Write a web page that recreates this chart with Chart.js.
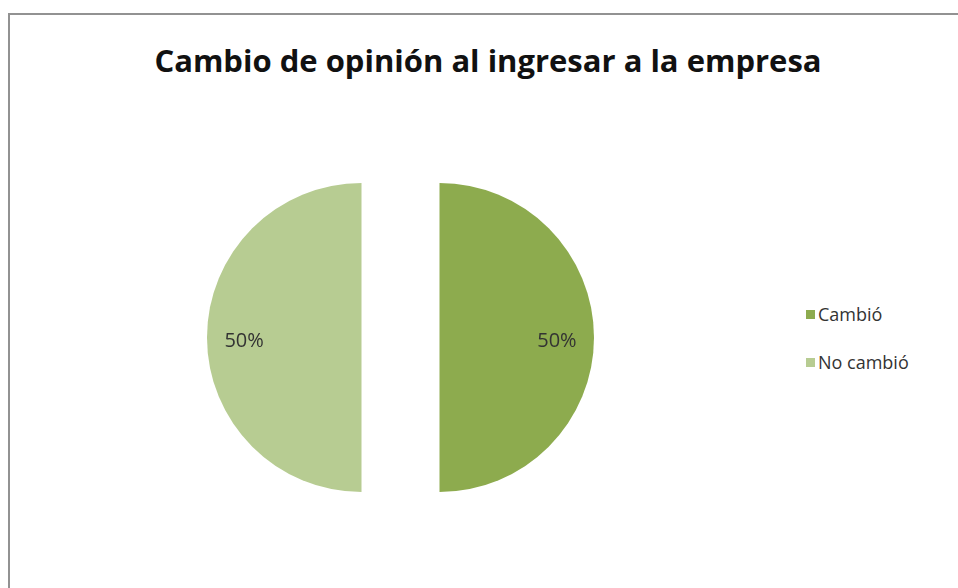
<!DOCTYPE html>
<html lang="es">
<head>
<meta charset="utf-8">
<title>Cambio de opinión al ingresar a la empresa</title>
<script src="https://cdn.jsdelivr.net/npm/chart.js@4.4.1/dist/chart.umd.min.js"></script>
<style>
	html, body { margin: 0; padding: 0; background: #fff; overflow: hidden; }
	body { width: 958px; height: 588px; position: relative; font-family: 'Open Sans', sans-serif; }
	.frame {
		position: absolute; left: 8px; top: 13px; width: 1000px; height: 1000px;
		border-left: 2px solid #929292; border-top: 2px solid #929292;
	}
	.title {
		position: absolute; left: 0; top: 39px; width: 976px; text-align: center;
		font-size: 31px; font-weight: 700; color: #111;
	}
	.pie { position: absolute; left: 196px; top: 133px; width: 409px; height: 409px; }
	.legend { position: absolute; left: 806px; top: 299px; list-style: none; margin: 0; padding: 0; }
	.legend li { font-size: 18px; color: #333; display: flex; align-items: center; height: 30px; margin-bottom: 18px; }
	.legend .box { width: 9px; height: 9px; margin-right: 3px; }
</style>
</head>
<body>
<div class="frame"></div>
<div class="title" id="title"></div>
<div class="pie"><canvas id="pieChart"></canvas></div>
<ul class="legend" id="legend"></ul>
<script>
// Chart data
const chartTitle = 'Cambio de opinión al ingresar a la empresa';
const categories = ['Cambió', 'No cambió'];
const values = [50, 50];
const colors = ['#8dab4e', '#b7cc92'];

// How far each slice is pulled out from the centre, in px
const explode = 39;

document.getElementById('title').textContent = chartTitle;

// Legend built from the same arrays
document.getElementById('legend').innerHTML = categories.map((c, i) => `
	<li><span class="box" style="background:${colors[i]}"></span>${c}</li>
`).join('');

// Pull the slices apart without the corner trimming that `offset` applies
const explodeSlices = {
	id: 'explodeSlices',
	afterUpdate(chart) {
		const { left, right, top, bottom } = chart.chartArea;
		const cx = (left + right) / 2;
		const cy = (top + bottom) / 2;
		chart.getDatasetMeta(0).data.forEach(arc => {
			const mid = (arc.startAngle + arc.endAngle) / 2;
			arc.x = cx + Math.cos(mid) * explode;
			arc.y = cy + Math.sin(mid) * explode;
		});
	}
};

// Percent labels inside each slice
const percentLabels = {
	id: 'percentLabels',
	afterDatasetsDraw(chart) {
		const { ctx } = chart;
		const meta = chart.getDatasetMeta(0);
		const total = values.reduce((a, b) => a + b, 0);
		ctx.save();
		ctx.font = '20px "Open Sans", sans-serif';
		ctx.fillStyle = '#333';
		ctx.textAlign = 'center';
		ctx.textBaseline = 'middle';
		meta.data.forEach((arc, i) => {
			const mid = (arc.startAngle + arc.endAngle) / 2;
			const r = arc.outerRadius * 0.76;
			const text = `${Math.round(values[i] / total * 100)}%`;
			ctx.fillText(text, arc.x + Math.cos(mid) * r, arc.y + Math.sin(mid) * r + 4);
		});
		ctx.restore();
	}
};

new Chart(document.getElementById('pieChart'), {
	type: 'pie',
	data: {
		labels: categories,
		datasets: [{
			data: values,
			backgroundColor: colors,
			borderWidth: 0,
		}]
	},
	options: {
		responsive: true,
		maintainAspectRatio: false,
		animation: false,
		layout: { padding: 50 },
		plugins: {
			legend: { display: false },
			tooltip: { enabled: false },
		}
	},
	plugins: [explodeSlices, percentLabels]
});
</script>
</body>
</html>
